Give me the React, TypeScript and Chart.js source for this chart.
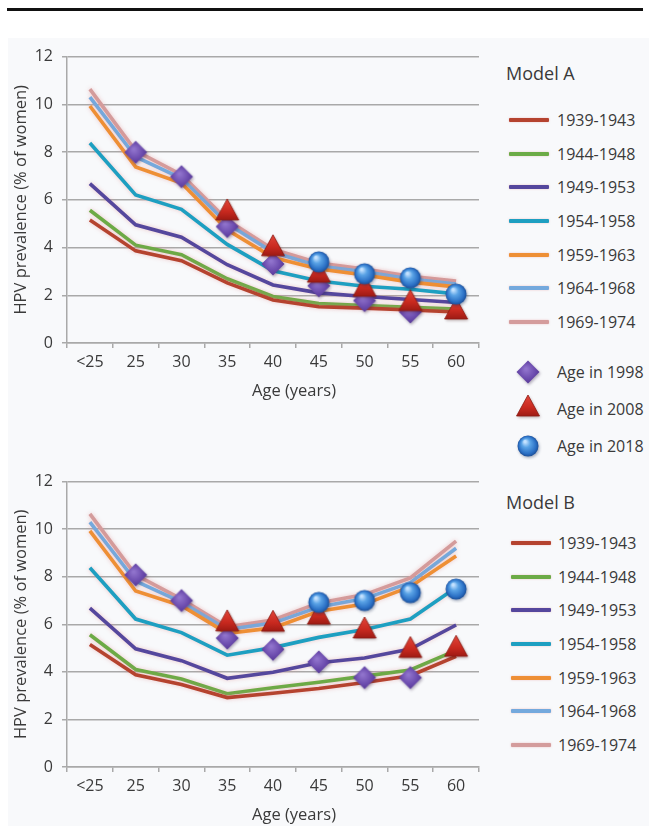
import React, { useEffect, useMemo, useRef } from 'react';
import { Chart, registerables } from 'chart.js';

Chart.register(...registerables);

// ---------- data ----------
const ages = ['<25', '25', '30', '35', '40', '45', '50', '55', '60'];
const cohorts = ['1939-1943', '1944-1948', '1949-1953', '1954-1958', '1959-1963', '1964-1968', '1969-1974'];
const cohortColors = ['#b5432f', '#6cab46', '#55479d', '#1e9fc1', '#ee8f35', '#74a9dd', '#d49c9c'];
const yTicks = [0, 2, 4, 6, 8, 10, 12];

// Model A
const a1939 = [5.15, 3.86, 3.45, 2.52, 1.8, 1.52, 1.46, 1.38, 1.3];
const a1944 = [5.56, 4.1, 3.7, 2.69, 1.95, 1.65, 1.57, 1.5, 1.42];
const a1949 = [6.68, 4.95, 4.43, 3.28, 2.43, 2.1, 1.95, 1.82, 1.7];
const a1954 = [8.38, 6.2, 5.6, 4.13, 3.03, 2.6, 2.38, 2.25, 2.06];
const a1959 = [9.93, 7.38, 6.7, 4.74, 3.58, 3.1, 2.85, 2.55, 2.35];
const a1964 = [10.3, 7.8, 6.9, 5.0, 3.8, 3.22, 2.98, 2.68, 2.47];
const a1969 = [10.64, 8.05, 7.05, 5.15, 3.93, 3.35, 3.1, 2.8, 2.6];
const aAge1998 = [null, 7.99, 6.97, 4.88, 3.31, 2.4, 1.78, 1.3, null];
const aAge2008 = [null, null, null, 5.45, 3.95, 2.84, 2.25, 1.65, 1.3];
const aAge2018 = [null, null, null, null, null, 3.4, 2.9, 2.73, 2.05];

// Model B
const b1939 = [5.15, 3.88, 3.47, 2.92, 3.1, 3.3, 3.55, 3.84, 4.65];
const b1944 = [5.56, 4.1, 3.7, 3.08, 3.33, 3.56, 3.82, 4.08, 4.9];
const b1949 = [6.68, 4.97, 4.47, 3.73, 3.98, 4.38, 4.58, 4.96, 5.97];
const b1954 = [8.38, 6.22, 5.65, 4.7, 5.02, 5.45, 5.78, 6.22, 7.55];
const b1959 = [9.93, 7.4, 6.78, 5.62, 5.85, 6.55, 6.85, 7.58, 8.87];
const b1964 = [10.3, 7.82, 6.93, 5.78, 6.05, 6.73, 7.08, 7.75, 9.2];
const b1969 = [10.64, 8.08, 7.06, 5.9, 6.18, 6.9, 7.25, 7.95, 9.5];
const bAge1998 = [null, 8.08, 7.0, 5.42, 4.95, 4.42, 3.76, 3.76, null];
const bAge2008 = [null, null, null, 6.02, 6.0, 6.3, 5.72, 4.9, 4.95];
const bAge2018 = [null, null, null, null, null, 6.92, 7.0, 7.33, 7.48];

const markerLabels = ['Age in 1998', 'Age in 2008', 'Age in 2018'];

// ---------- style ----------
const FONT = '"Open Sans", sans-serif';
const TXT = '#3a3a3a';
const GRID = '#a9a9a9';

// ---------- marker images ----------
function makeDiamond(): HTMLCanvasElement {
  const c = document.createElement('canvas');
  c.width = 30; c.height = 30;
  const g = c.getContext('2d')!;
  const cx = 15, cy = 15, r = 11.5;
  g.shadowColor = 'rgba(40,20,60,0.35)';
  g.shadowBlur = 3; g.shadowOffsetX = 1; g.shadowOffsetY = 1.5;
  g.beginPath();
  g.moveTo(cx, cy - r); g.lineTo(cx + r, cy); g.lineTo(cx, cy + r); g.lineTo(cx - r, cy);
  g.closePath();
  const grad = g.createRadialGradient(cx - 2, cy - 3, 1, cx, cy, r + 2);
  grad.addColorStop(0, '#9073cc');
  grad.addColorStop(0.55, '#6c4cae');
  grad.addColorStop(1, '#4e318e');
  g.fillStyle = grad;
  g.fill();
  return c;
}

function makeTriangle(): HTMLCanvasElement {
  const c = document.createElement('canvas');
  c.width = 30; c.height = 34;
  const g = c.getContext('2d')!;
  const cx = 15, cy = 17, w = 23, h = 21;
  const top = cy - (2 / 3) * h, bot = cy + h / 3;
  g.shadowColor = 'rgba(60,10,10,0.35)';
  g.shadowBlur = 3; g.shadowOffsetX = 1; g.shadowOffsetY = 1.5;
  g.beginPath();
  g.moveTo(cx, top); g.lineTo(cx + w / 2, bot); g.lineTo(cx - w / 2, bot);
  g.closePath();
  const grad = g.createLinearGradient(cx, top, cx, bot);
  grad.addColorStop(0, '#e2463a');
  grad.addColorStop(0.6, '#c8291f');
  grad.addColorStop(1, '#9e1b14');
  g.fillStyle = grad;
  g.fill();
  g.shadowColor = 'transparent';
  g.strokeStyle = '#8a1a12';
  g.lineWidth = 0.8;
  g.stroke();
  return c;
}

function makeCircle(): HTMLCanvasElement {
  const c = document.createElement('canvas');
  c.width = 28; c.height = 28;
  const g = c.getContext('2d')!;
  const cx = 14, cy = 14, r = 10.5;
  g.shadowColor = 'rgba(10,30,70,0.35)';
  g.shadowBlur = 3; g.shadowOffsetX = 1; g.shadowOffsetY = 1.5;
  g.beginPath();
  g.arc(cx, cy, r, 0, Math.PI * 2);
  const grad = g.createRadialGradient(cx - 3, cy - 4.5, 1, cx, cy, r);
  grad.addColorStop(0, '#c4e2ff');
  grad.addColorStop(0.35, '#5aa3e6');
  grad.addColorStop(0.8, '#2a6fc4');
  grad.addColorStop(1, '#1c4f98');
  g.fillStyle = grad;
  g.fill();
  return c;
}

// ---------- plugins ----------
const lineGlowPlugin = {
  id: 'lineGlow',
  beforeDatasetDraw(chart: any, args: any) {
    const ds = chart.data.datasets[args.index];
    if (ds.kind !== 'line') return;
    const ctx = chart.ctx;
    ctx.save();
    ctx.shadowColor = 'rgba(225,140,140,0.45)';
    ctx.shadowBlur = 4;
  },
  afterDatasetDraw(chart: any, args: any) {
    const ds = chart.data.datasets[args.index];
    if (ds.kind !== 'line') return;
    chart.ctx.restore();
  },
};

function makeTitlePlugin(xTitle: string, yTitle: string) {
  return {
    id: 'axisTitles',
    afterDraw(chart: any) {
      const { ctx, chartArea } = chart;
      ctx.save();
      ctx.fillStyle = TXT;
      ctx.textAlign = 'center';
      ctx.textBaseline = 'middle';
      ctx.font = `16.5px ${FONT}`;
      ctx.fillText(xTitle, (chartArea.left + chartArea.right) / 2 + 21, chartArea.bottom + 48);
      ctx.translate(21, (chartArea.top + chartArea.bottom) / 2);
      ctx.rotate(-Math.PI / 2);
      ctx.font = `16.5px ${FONT}`;
      ctx.fillText(yTitle, 0, 0);
      ctx.restore();
    },
  };
}

function buildConfig(
  lines: number[][],
  m1998: (number | null)[],
  m2008: (number | null)[],
  m2018: (number | null)[],
  imgs: { diamond: HTMLCanvasElement; triangle: HTMLCanvasElement; circle: HTMLCanvasElement },
  xAxisHeight: number,
): any {
  const markerDs = (label: string, data: (number | null)[], img: HTMLCanvasElement, order: number) => ({
    label,
    data,
    kind: 'marker',
    showLine: false,
    pointStyle: img,
    pointRadius: 10,
    pointHoverRadius: 10,
    order,
  });
  return {
    type: 'line',
    data: {
      labels: ages,
      datasets: [
        markerDs(markerLabels[2], m2018, imgs.circle, 0),
        markerDs(markerLabels[1], m2008, imgs.triangle, 1),
        markerDs(markerLabels[0], m1998, imgs.diamond, 2),
        ...cohorts.map((c, i) => ({
          label: c,
          data: lines[i],
          kind: 'line',
          borderColor: cohortColors[i],
          backgroundColor: cohortColors[i],
          borderWidth: 3.6,
          pointRadius: 0,
          tension: 0,
          fill: false,
          order: 3,
        })),
      ],
    },
    options: {
      responsive: false,
      animation: false,
      events: [],
      layout: { padding: { top: 10, right: 8, left: 0, bottom: 0 } },
      plugins: {
        legend: { display: false },
        tooltip: { enabled: false },
        title: { display: false },
      },
      scales: {
        x: {
          type: 'category',
          offset: true,
          grid: {
            offset: true,
            drawOnChartArea: false,
            drawTicks: true,
            tickLength: 5,
            color: GRID,
            lineWidth: 1.5,
          },
          border: { display: true, color: GRID, width: 1.5 },
          ticks: {
            color: TXT,
            font: { family: FONT, size: 16 },
            padding: 5,
            maxRotation: 0,
            autoSkip: false,
          },
          afterFit: (s: any) => {
            s.height = xAxisHeight;
          },
        },
        y: {
          min: yTicks[0],
          max: yTicks[yTicks.length - 1],
          afterBuildTicks: (s: any) => {
            s.ticks = yTicks.map((v) => ({ value: v }));
          },
          grid: { color: GRID, lineWidth: 1.5, tickLength: 5, drawTicks: true },
          border: { display: true, color: GRID, width: 1.5 },
          ticks: {
            color: TXT,
            font: { family: FONT, size: 16 },
            padding: 9,
          },
          afterFit: (s: any) => {
            s.width = 67;
          },
        },
      },
    },
  };
}

// ---------- legend ----------
type LegendProps = {
  title: string;
  titleY: number;
  rowY0: number;
  lineLeft: number;
  textLeft: number;
  markers?: { src: string; y: number; label: string }[];
};

const Legend = ({ title, titleY, rowY0, lineLeft, textLeft, markers }: LegendProps) => {
  const step = 33.67;
  const centered: React.CSSProperties = { position: 'absolute', transform: 'translateY(-50%)', whiteSpace: 'nowrap' };
  return (
    <>
      <div style={{ ...centered, left: 506, top: titleY, fontFamily: FONT, fontSize: 18, color: TXT }}>{title}</div>
      {cohorts.map((c, i) => (
        <React.Fragment key={c}>
          <div
            style={{
              position: 'absolute',
              left: lineLeft,
              top: rowY0 + i * step - 2,
              width: 40,
              height: 4,
              borderRadius: 1,
              background: cohortColors[i],
              boxShadow: '0 0 2px rgba(225,140,140,0.5)',
            }}
          />
          <div style={{ ...centered, left: textLeft, top: rowY0 + i * step, fontFamily: FONT, fontSize: 16, color: TXT }}>{c}</div>
        </React.Fragment>
      ))}
      {markers &&
        markers.map((m) => (
          <React.Fragment key={m.label}>
            <img
              src={m.src}
              style={{ position: 'absolute', left: 528, top: m.y, transform: 'translate(-50%, -50%)' }}
            />
            <div style={{ ...centered, left: textLeft, top: m.y, fontFamily: FONT, fontSize: 16, color: TXT }}>{m.label}</div>
          </React.Fragment>
        ))}
    </>
  );
};

// ---------- app ----------
export default function App() {
  const topRef = useRef<HTMLCanvasElement>(null);
  const botRef = useRef<HTMLCanvasElement>(null);
  const imgs = useMemo(() => ({ diamond: makeDiamond(), triangle: makeTriangle(), circle: makeCircle() }), []);
  const srcs = useMemo(
    () => ({ diamond: imgs.diamond.toDataURL(), triangle: imgs.triangle.toDataURL(), circle: imgs.circle.toDataURL() }),
    [imgs],
  );

  useEffect(() => {
    const linesA = [a1939, a1944, a1949, a1954, a1959, a1964, a1969];
    const linesB = [b1939, b1944, b1949, b1954, b1959, b1964, b1969];
    const cfgA = buildConfig(linesA, aAge1998, aAge2008, aAge2018, imgs, 75);
    cfgA.plugins = [lineGlowPlugin, makeTitlePlugin('Age (years)', 'HPV prevalence (% of women)')];
    const cfgB = buildConfig(linesB, bAge1998, bAge2008, bAge2018, imgs, 59);
    cfgB.plugins = [lineGlowPlugin, makeTitlePlugin('Age (years)', 'HPV prevalence (% of women)')];
    const chA = new Chart(topRef.current!, cfgA);
    const chB = new Chart(botRef.current!, cfgB);
    return () => {
      chA.destroy();
      chB.destroy();
    };
  }, [imgs]);

  return (
    <div
      style={{
        position: 'absolute',
        left: 0,
        top: 0,
        width: 649,
        height: 826,
        overflow: 'hidden',
        background: '#ffffff',
      }}
    >
      <div style={{ position: 'absolute', left: 7, top: 8, width: 636, height: 2.5, background: '#111' }} />
      <div style={{ position: 'absolute', left: 8, top: 38, width: 641, height: 788, background: '#f8f9fb' }} />
      <canvas ref={topRef} width={490} height={380} style={{ position: 'absolute', left: 0, top: 38 }} />
      <canvas ref={botRef} width={490} height={363} style={{ position: 'absolute', left: 0, top: 463 }} />
      <Legend
        title="Model A"
        titleY={73}
        rowY0={120}
        lineLeft={509}
        textLeft={557}
        markers={[
          { src: srcs.diamond, y: 372, label: markerLabels[0] },
          { src: srcs.triangle, y: 409, label: markerLabels[1] },
          { src: srcs.circle, y: 446, label: markerLabels[2] },
        ]}
      />
      <Legend title="Model B" titleY={502} rowY0={543} lineLeft={511} textLeft={558} />
    </div>
  );
}
